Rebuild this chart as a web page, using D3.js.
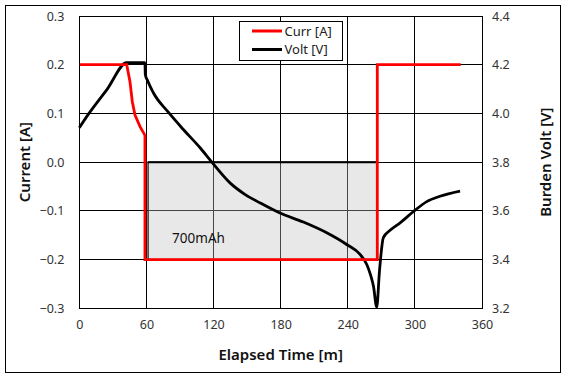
<!DOCTYPE html>
<html><head><meta charset="utf-8">
<script src="https://cdn.jsdelivr.net/npm/d3@7"></script>
<style>body{margin:0;background:#fff}svg{display:block}</style>
</head><body><svg id="c" width="567" height="378"></svg>
<script>
const xTicks = [0,60,120,180,240,300,360];
const yLeftTicks = [-0.3,-0.2,-0.1,0.0,0.1,0.2,0.3];
const yRightTicks = [3.2,3.4,3.6,3.8,4.0,4.2,4.4];
const currTime = [0, 42.4, 45.3, 47.4, 49.8, 54.3, 58.7, 58.7, 266.4, 266.4, 341];
const currVal  = [0.2, 0.2, 0.165, 0.124, 0.0965, 0.073, 0.055, -0.2, -0.2, 0.2, 0.2];
const voltTime = [0, 8, 25, 42.4, 58.7, 59.0, 61, 66.2, 79.6, 93, 108, 118.5, 134.7, 148, 161.9, 179.4, 200.3, 221.2, 239, 251, 257, 260.5, 263, 265.9, 268.3, 271.8, 277.8, 286.8, 300.2, 310.6, 322.5, 340.4];
const voltVal  = [3.941, 3.996, 4.10, 4.208, 4.208, 4.16, 4.135, 4.085, 4.005, 3.934, 3.859, 3.80, 3.715, 3.668, 3.632, 3.591, 3.554, 3.51, 3.462, 3.421, 3.38, 3.335, 3.29, 3.205, 3.35, 3.49, 3.52, 3.551, 3.603, 3.638, 3.66, 3.681];
const area = {t0: 61.5, t1: 266.4, c0: 0, c1: -0.2, label: "700mAh"};
const legendItems = [{name:"Curr [A]", color:"#ff0000"},{name:"Volt [V]", color:"#000000"}];

const svg = d3.select("#c");
const L=79.3, R=482, T=16, B=308.3;
const x = d3.scaleLinear().domain([0,360]).range([L,R]);
const yL = d3.scaleLinear().domain([-0.3,0.3]).range([B,T]);
const yR = d3.scaleLinear().domain([3.2,4.4]).range([B,T]);
const font = "'Noto Sans', sans-serif";
const tickCol = "#333";

svg.append("rect").attr("x",5.5).attr("y",5.5).attr("width",555).attr("height",367)
  .attr("fill","#fff").attr("stroke","#000").attr("stroke-width",1);

// grid
const g = svg.append("g");
g.selectAll("line.v").data(xTicks).join("line")
  .attr("x1",d=>x(d)).attr("x2",d=>x(d)).attr("y1",T).attr("y2",B)
  .attr("stroke","#000").attr("stroke-width",1).attr("shape-rendering","crispEdges");
g.selectAll("line.h").data(yLeftTicks).join("line")
  .attr("y1",d=>yL(d)).attr("y2",d=>yL(d)).attr("x1",L).attr("x2",R)
  .attr("stroke","#000").attr("stroke-width",1).attr("shape-rendering","crispEdges");

// axes (labels only)
const ax = d3.axisBottom(x).tickValues(xTicks).tickSize(0).tickPadding(12).tickFormat(d3.format("d"));
const gx = svg.append("g").attr("transform",`translate(0,${B})`).call(ax);
const ayl = d3.axisLeft(yL).tickValues(yLeftTicks).tickSize(0).tickPadding(15).tickFormat(d3.format(".1f"));
const gyl = svg.append("g").attr("transform",`translate(${L},0)`).call(ayl);
const ayr = d3.axisRight(yR).tickValues(yRightTicks).tickSize(0).tickPadding(10).tickFormat(d3.format(".1f"));
const gyr = svg.append("g").attr("transform",`translate(${R},0)`).call(ayr);
[gx,gyl,gyr].forEach(a=>{a.select(".domain").remove();
  a.selectAll("text").attr("font-family",font).attr("font-size",12.5).attr("fill",tickCol);});

// shaded area
svg.append("rect").attr("x",x(area.t0)).attr("y",yL(area.c0))
  .attr("width",x(area.t1)-x(area.t0)).attr("height",yL(area.c1)-yL(area.c0))
  .attr("fill","#bebebe").attr("fill-opacity",0.36)
  .attr("stroke","#333").attr("stroke-width",1.5);
svg.append("line").attr("x1",x(area.t0)).attr("x2",x(area.t1)).attr("y1",yL(area.c0)).attr("y2",yL(area.c0))
  .attr("stroke","#000").attr("stroke-width",2);
svg.append("text").attr("x",x(area.t0)+24).attr("y",yL(-0.165))
  .attr("font-family",font).attr("font-size",13.5).attr("fill","#111").text(area.label);

// lines
const currData = currTime.map((t,i)=>[t,currVal[i]]);
const voltData = voltTime.map((t,i)=>[t,voltVal[i]]);
svg.append("path").datum(voltData)
  .attr("d",d3.line().curve(d3.curveMonotoneX).x(d=>x(d[0])).y(d=>yR(d[1])))
  .attr("fill","none").attr("stroke","#000").attr("stroke-width",2.8).attr("stroke-linejoin","round");
svg.append("path").datum(currData)
  .attr("d",d3.line().x(d=>x(d[0])).y(d=>yL(d[1])))
  .attr("fill","none").attr("stroke","#ff0000").attr("stroke-width",2.8).attr("stroke-linejoin","miter");

// plot border
svg.append("rect").attr("x",L).attr("y",T).attr("width",R-L).attr("height",B-T)
  .attr("fill","none").attr("stroke","#000").attr("stroke-width",1).attr("shape-rendering","crispEdges");

// legend
const lg = svg.append("g");
lg.append("rect").attr("x",239.5).attr("y",21.5).attr("width",103).attr("height",39)
  .attr("fill","#fff").attr("stroke","#000").attr("stroke-width",1);
legendItems.forEach((it,i)=>{
  const yy = 31 + i*18.5;
  lg.append("line").attr("x1",252).attr("x2",282).attr("y1",yy).attr("y2",yy)
    .attr("stroke",it.color).attr("stroke-width",3);
  lg.append("text").attr("x",284.5).attr("y",yy+4.5).attr("font-family",font)
    .attr("font-size",13).attr("fill","#222").text(it.name);
});

// axis titles
svg.append("text").attr("x",(L+R)/2).attr("y",360).attr("text-anchor","middle")
  .attr("font-family",font).attr("font-size",15).attr("font-weight",600).attr("fill","#111").text("Elapsed Time [m]");
svg.append("text").attr("transform",`translate(30,${(T+B)/2}) rotate(-90)`).attr("text-anchor","middle")
  .attr("font-family",font).attr("font-size",15).attr("font-weight",600).attr("fill","#111").text("Current [A]");
svg.append("text").attr("transform",`translate(551,${(T+B)/2}) rotate(-90)`).attr("text-anchor","middle")
  .attr("font-family",font).attr("font-size",15).attr("font-weight",600).attr("fill","#111").text("Burden Volt [V]");
</script></body></html>
